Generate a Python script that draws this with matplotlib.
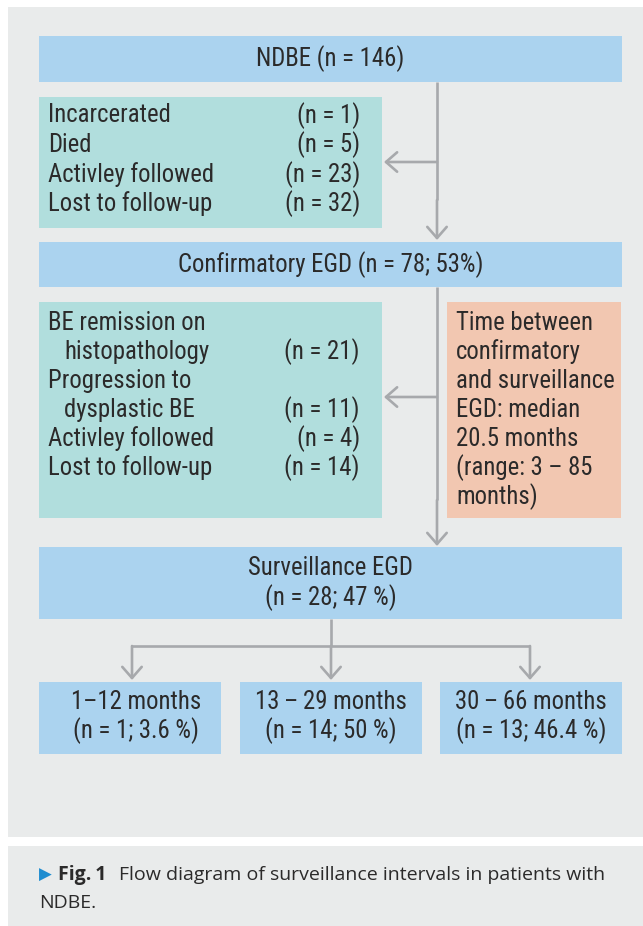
import matplotlib
matplotlib.use('Agg')
import matplotlib.pyplot as plt
from matplotlib.patches import Rectangle
from matplotlib import font_manager as fm

# Counts
total_n = 146
excl1_labels = ['Incarcerated', 'Died', 'Activley followed', 'Lost to follow-up']
excl1_n = [1, 5, 23, 32]
confirm_n = 78
confirm_pct = 53
excl2_labels = [['BE remission on', 'histopathology'], ['Progression to', 'dysplastic BE'],
                ['Activley followed'], ['Lost to follow-up']]
excl2_n = [21, 11, 4, 14]
interval_median = 20.5
interval_range = (3, 85)
surv_n = 28
surv_pct = 47
group_labels = ['1\u201312 months', '13\u2009\u2013\u200929 months', '30\u2009\u2013\u200966 months']
group_n = [1, 14, 13]
group_pct = ['3.6', '50', '46.4']


def pick(names):
    for n in names:
        try:
            fm.findfont(fm.FontProperties(family=n), fallback_to_default=False)
            return n
        except Exception:
            pass
    return 'DejaVu Sans'


narrow = pick(['Liberation Sans Narrow', 'Roboto Condensed', 'Open Sans Condensed', 'Liberation Sans'])
wide = pick(['Open Sans', 'Noto Sans', 'DejaVu Sans'])
FAM = [narrow, 'DejaVu Sans']
FS = 17.8
TXT = '#2b2a2a'
GRAY_BG = '#e9ebeb'
BLUE = '#abd3ef'
GREEN = '#b1dedd'
ORANGE = '#f2c7b1'
ARROW = '#a7a9ac'

fig = plt.figure(figsize=(6.43, 9.26), dpi=100)
ax = fig.add_axes([0, 0, 1, 1])
ax.set_xlim(0, 643)
ax.set_ylim(926, 0)
ax.axis('off')


def box(x0, y0, x1, y1, c):
    ax.add_patch(Rectangle((x0, y0), x1 - x0, y1 - y0, facecolor=c, edgecolor='none'))


def txt(x, y, s, ha='left', **kw):
    kw.setdefault('fontsize', FS)
    kw.setdefault('family', FAM)
    ax.text(x, y, s, ha=ha, va='center', color=TXT, **kw)


def arrow(x0, y0, x1, y1):
    ax.annotate('', xy=(x1, y1), xytext=(x0, y0),
                arrowprops=dict(arrowstyle='->,head_length=0.8,head_width=0.7',
                                color=ARROW, lw=1.9, shrinkA=0, shrinkB=0))


def line(xs, ys):
    ax.plot(xs, ys, color=ARROW, lw=1.9, solid_capstyle='butt')


# panels
box(8, 7, 643, 837, GRAY_BG)
box(8, 846, 643, 926, GRAY_BG)

# top box
box(39, 36, 622, 82, BLUE)
txt(330.5, 59, 'NDBE (n = %d)' % total_n, ha='center')

# first exclusions
box(39, 97, 382, 228, GREEN)
for i, (lab, n) in enumerate(zip(excl1_labels, excl1_n)):
    y = 115.5 + 29.4 * i
    txt(48, y, lab)
    txt(360, y, '(n = %d)' % n, ha='right')

line([437, 437], [82, 200])
arrow(437, 200, 437, 240)
arrow(437, 162, 384, 162)

# confirmatory
box(39, 242, 622, 287, BLUE)
txt(330.5, 264.5, 'Confirmatory EGD (n = %d; %d%%)' % (confirm_n, confirm_pct), ha='center')

# second exclusions
box(39, 302, 382, 518, GREEN)
k = 0
for lines_, n in zip(excl2_labels, excl2_n):
    for j, s in enumerate(lines_):
        y = 323 + 29 * k
        txt(48 if j == 0 else 64, y, s)
        if j == len(lines_) - 1:
            txt(360, y, '(n = %d)' % n, ha='right')
        k += 1

box(447, 302, 621, 518, ORANGE)
orange_lines = ['Time between', 'confirmatory', 'and surveillance', 'EGD: median',
                '%.1f months' % interval_median,
                '(range: %d \u2013 %d' % interval_range, 'months)']
for i, s in enumerate(orange_lines):
    txt(456, 323 + 29 * i, s)

line([437, 437], [287, 500])
arrow(437, 500, 437, 546)
arrow(437, 397, 384, 397)

# surveillance
box(39, 547, 622, 619, BLUE)
txt(330.5, 568, 'Surveillance EGD', ha='center')
txt(330.5, 598, '(n = %d; %d %%)' % (surv_n, surv_pct), ha='center')

# branches
bx = [(39, 221), (240, 422), (440, 622)]
cx = [132, 331, 530]
line([331, 331], [619, 646])
line([cx[0], cx[-1]], [646, 646])
for c in cx:
    arrow(c, 646, c, 680)
for (x0, x1), c, lab, n, p in zip(bx, cx, group_labels, group_n, group_pct):
    box(x0, 682, x1, 754, BLUE)
    tc = (x0 + x1) / 2 + (6 if x0 == 39 else 0)
    txt(tc, 702, lab, ha='center')
    txt(tc, 731, '(n = %d; %s %%)' % (n, p), ha='center')

# caption
ax.text(39, 875, '\u25b6', ha='left', va='center', color='#1f8dd0', fontsize=12, family='DejaVu Sans')
ax.text(58, 875, 'Fig.\u20091', ha='left', va='center', color=TXT, fontsize=14,
        fontweight='bold', family=[wide, 'DejaVu Sans'])
ax.text(119, 875, 'Flow diagram of surveillance intervals in patients with', ha='left',
        va='center', color=TXT, fontsize=14, family=[wide, 'DejaVu Sans'])
ax.text(39, 903, 'NDBE.', ha='left', va='center', color=TXT, fontsize=14,
        family=[wide, 'DejaVu Sans'])

fig.savefig('out.png', dpi=100, facecolor='white')
